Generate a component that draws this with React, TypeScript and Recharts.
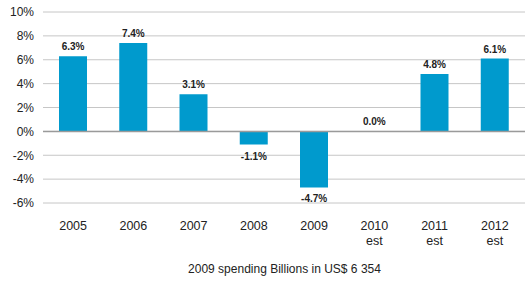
import { ComposedChart, Bar, Line, XAxis, YAxis, CartesianGrid, LabelList, ReferenceLine } from "recharts"

const years = ["2005", "2006", "2007", "2008", "2009", "2010 est", "2011 est", "2012 est"]
const growth = [6.3, 7.4, 3.1, -1.1, -4.7, 0.0, 4.8, 6.1]
const yTicks = [-6, -4, -2, 0, 2, 4, 6, 8, 10]
const footnote = "2009 spending Billions in US$ 6 354"

const data = years.map((year, i) => ({ year, growth: growth[i] }))

const font = "'Liberation Sans', Arial, sans-serif"

function YearTick(props: any) {
  const { x, y, payload } = props
  const lines = String(payload.value).split(" ")
  return (
    <text x={x} y={y} textAnchor="middle" fill="#222" fontSize={12.5} fontFamily={font}>
      {lines.map((line, i) => (
        <tspan key={i} x={x} dy={i === 0 ? 19 : 15}>
          {line}
        </tspan>
      ))}
    </text>
  )
}

// value labels: above the bar end for >= 0, below it for negatives
function ValueLabel(props: any) {
  const { x, y, value } = props
  if (x == null || y == null) return null
  const neg = Number(value) < 0
  return (
    <text
      x={x}
      y={neg ? y + 15 : y - 6}
      textAnchor="middle"
      fill="#222"
      fontSize={10}
      fontWeight={700}
      fontFamily={font}
    >
      {`${Number(value).toFixed(1)}%`}
    </text>
  )
}

export default function App() {
  return (
    <div style={{ position: "absolute", left: 0, top: 0, width: 526, height: 281, background: "#fff" }}>
      <ComposedChart
        width={526}
        height={281}
        data={data}
        margin={{ top: 12, right: 1, bottom: 0, left: 0 }}
        barSize={28}
      >
        <CartesianGrid vertical={false} stroke="#c6c6c6" />
        <XAxis
          dataKey="year"
          axisLine={false}
          tickLine={false}
          interval={0}
          height={78}
          tick={<YearTick />}
        />
        <YAxis
          domain={[-6, 10]}
          ticks={yTicks}
          width={43}
          axisLine={false}
          tickLine={false}
          tickSize={0}
          tickMargin={9}
          tickFormatter={(v: number) => `${v}%`}
          tick={{ fill: "#222", fontSize: 12, fontFamily: font }}
        />
        <ReferenceLine y={0} stroke="#9a9a9a" strokeWidth={1.5} />
        <Bar dataKey="growth" fill="#009ACD" isAnimationActive={false} />
        <Line
          dataKey="growth"
          stroke="none"
          dot={false}
          activeDot={false}
          legendType="none"
          isAnimationActive={false}
        >
          <LabelList dataKey="growth" content={<ValueLabel />} />
        </Line>
      </ComposedChart>
      <div
        style={{
          position: "absolute",
          left: 43,
          width: 483,
          top: 262,
          textAlign: "center",
          fontFamily: font,
          fontSize: 12,
          color: "#222",
        }}
      >
        {footnote}
      </div>
    </div>
  )
}
